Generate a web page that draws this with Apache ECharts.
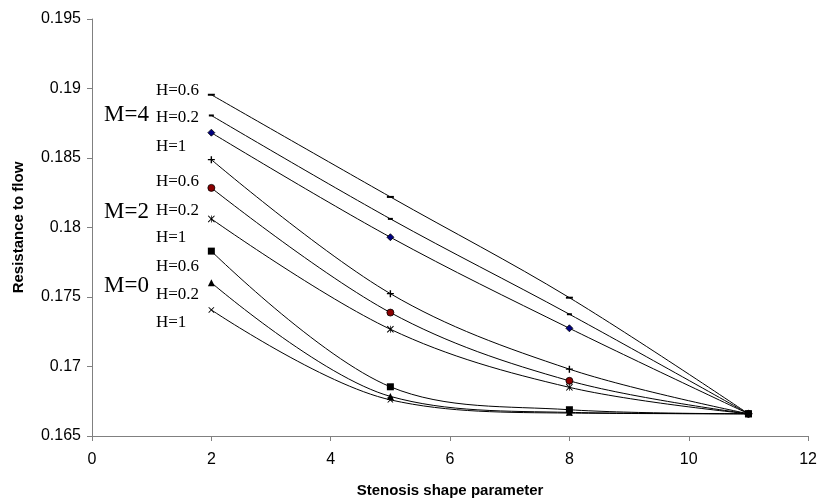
<!DOCTYPE html>
<html>
<head>
<meta charset="utf-8">
<script src="https://cdn.jsdelivr.net/npm/echarts@6/dist/echarts.min.js"></script>
<style>html,body{margin:0;padding:0;background:#fff}#c{width:820px;height:503px}</style>
</head>
<body>
<div id="c"></div>
<script>
var xValues = [2, 5, 8, 11];
var m4h06 = [0.18955, 0.1822, 0.17495, 0.1666];
var m4h02 = [0.18806, 0.18062, 0.17376, 0.1666];
var m4h1  = [0.18682, 0.1793, 0.17275, 0.1666];
var m2h06 = [0.18488, 0.17524, 0.16981, 0.1666];
var m2h02 = [0.18285, 0.17388, 0.16897, 0.1666];
var m2h1  = [0.18062, 0.17268, 0.1685, 0.1666];
var m0h06 = [0.1783, 0.16854, 0.16689, 0.1666];
var m0h02 = [0.17603, 0.16785, 0.1667, 0.1666];
var m0h1  = [0.17407, 0.1676, 0.16665, 0.1666];
var hLabels = ['H=0.6', 'H=0.2', 'H=1', 'H=0.6', 'H=0.2', 'H=1', 'H=0.6', 'H=0.2', 'H=1'];
var mLabels = ['M=4', 'M=2', 'M=0'];

var DASH = 'path://M0,0H10V2H0Z';
var PLUS = 'path://M4,0H6V4H10V6H6V10H4V6H0V4H4Z';
var CROSS = 'path://M1,0L5,4L9,0L10,1L6,5L10,9L9,10L5,6L1,10L0,9L4,5L0,1Z';
var STAR = 'path://M1,0L5,4L9,0L10,1L6,5L10,9L9,10L5,6L1,10L0,9L4,5L0,1Z M4.5,0H5.5V10H4.5Z';

function pairs(arr){ return xValues.map(function(x,i){ return [x, arr[i]]; }); }
function mk(name, arr, symbol, size, color, border){
  return {
    name: name, type: 'line', data: pairs(arr), smooth: 0.35,
    symbol: symbol, symbolSize: size, showSymbol: true,
    lineStyle: {color: '#000', width: 1},
    itemStyle: {color: color || '#000', borderColor: border || (color || '#000'), borderWidth: border ? 0.8 : 0},
    z: 3
  };
}
var series = [
  mk('M=4 H=0.6', m4h06, DASH, [7, 2]),
  mk('M=4 H=0.2', m4h02, DASH, [5, 2]),
  mk('M=4 H=1', m4h1, 'diamond', 7, '#000080', '#000'),
  mk('M=2 H=0.6', m2h06, PLUS, 7),
  mk('M=2 H=0.2', m2h02, 'circle', 7, '#8b0000', '#000'),
  mk('M=2 H=1', m2h1, STAR, 7),
  mk('M=0 H=0.6', m0h06, 'rect', 7),
  mk('M=0 H=0.2', m0h02, 'triangle', 7),
  mk('M=0 H=1', m0h1, CROSS, 6)
];

var hY = [92, 119, 148, 183, 212, 239, 268, 296, 324];
var mY = [117, 214, 288];
var graphics = [];
hLabels.forEach(function(t, i){
  graphics.push({type: 'text', left: 156, top: hY[i] - 10, style: {text: t, font: '17px "Liberation Serif", "Times New Roman", serif', fill: '#000'}});
});
mLabels.forEach(function(t, i){
  graphics.push({type: 'text', left: 104, top: mY[i] - 14, style: {text: t, font: '23px "Liberation Serif", "Times New Roman", serif', fill: '#000'}});
});

var chart = echarts.init(document.getElementById('c'));
chart.setOption({
  animation: false,
  backgroundColor: '#fff',
  grid: {left: 92, right: 10, top: 19, bottom: 66, containLabel: false},
  xAxis: {
    type: 'value', min: 0, max: 12, interval: 2,
    name: 'Stenosis shape parameter', nameLocation: 'middle', nameGap: 47,
    nameTextStyle: {fontFamily: 'Liberation Sans, Arial', fontWeight: 'bold', fontSize: 15, color: '#000'},
    axisLine: {show: true, lineStyle: {color: '#808080', width: 1}},
    axisTick: {show: true, inside: false, length: 5, lineStyle: {color: '#808080'}},
    axisLabel: {fontFamily: 'Liberation Sans, Arial', fontSize: 16, color: '#000', margin: 16},
    splitLine: {show: false}
  },
  yAxis: {
    type: 'value', min: 0.165, max: 0.195, interval: 0.005,
    name: 'Resistance to flow', nameLocation: 'middle', nameGap: 66, nameRotate: 90,
    nameTextStyle: {fontFamily: 'Liberation Sans, Arial', fontWeight: 'bold', fontSize: 15, color: '#000'},
    axisLine: {show: true, lineStyle: {color: '#808080', width: 1}},
    axisTick: {show: true, inside: false, length: 5, lineStyle: {color: '#808080'}},
    axisLabel: {fontFamily: 'Liberation Sans, Arial', fontSize: 16, color: '#000', margin: 11,
      formatter: function(v){ return String(parseFloat(v.toFixed(3))); }},
    splitLine: {show: false}
  },
  series: series,
  graphic: graphics
});
</script>
</body>
</html>
